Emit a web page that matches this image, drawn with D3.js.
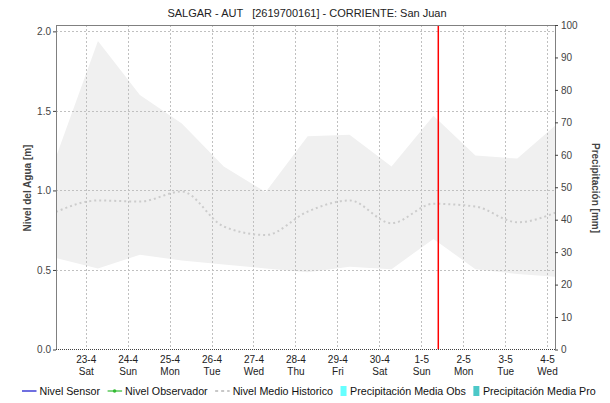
<!DOCTYPE html>
<html>
<head>
<meta charset="utf-8">
<script src="https://cdn.jsdelivr.net/npm/d3@7"></script>
<style>
  html, body { margin: 0; padding: 0; background: #fff; }
  svg { display: block; font-family: "Liberation Sans", Arial, sans-serif; }
</style>
</head>
<body>
<svg id="chart" width="610" height="403"></svg>
<script>
// Station / title
const title = "SALGAR - AUT   [2619700161] - CORRIENTE: San Juan";

// Daily samples of the historical level band (07:00 each day)
const dates = [
  "2022-04-22T07:00Z", "2022-04-23T07:00Z", "2022-04-24T07:00Z", "2022-04-25T07:00Z",
  "2022-04-26T07:00Z", "2022-04-27T07:00Z", "2022-04-28T07:00Z", "2022-04-29T07:00Z",
  "2022-04-30T07:00Z", "2022-05-01T07:00Z", "2022-05-02T07:00Z", "2022-05-03T07:00Z",
  "2022-05-04T07:00Z"
];
const historicMax = [1.21, 1.94, 1.60, 1.42, 1.15, 0.99, 1.34, 1.35, 1.15, 1.47, 1.22, 1.20, 1.43];
const historicMin = [0.575, 0.51, 0.595, 0.56, 0.535, 0.51, 0.485, 0.52, 0.505, 0.695, 0.505, 0.475, 0.455];
const historicMean = [0.865, 0.937, 0.93, 0.993, 0.773, 0.72, 0.867, 0.937, 0.794, 0.916, 0.899, 0.80, 0.87];

// Series with no readings in this window
const sensorLevel = [];
const observerLevel = [];
const precipObs = [];
const precipForecast = [];

// Axis settings
const levelTicks = [0, 0.5, 1.0, 1.5, 2.0];
const precipTicks = [0, 10, 20, 30, 40, 50, 60, 70, 80, 90, 100];
const timeWindow = ["2022-04-22T07:00Z", "2022-05-04T04:33Z"];
const nowMark = "2022-05-01T09:46Z";

const legendItems = [
  { name: "Nivel Sensor", kind: "line", color: "#1010cc" },
  { name: "Nivel Observador", kind: "point", color: "#33bb33" },
  { name: "Nivel Medio Historico", kind: "dash", color: "#c8c8c8" },
  { name: "Precipitación Media Obs", kind: "box", color: "#66ffff" },
  { name: "Precipitación Media Pro", kind: "box", color: "#4cc8c8" }
];

const svg = d3.select("#chart");
const m = { left: 56, right: 555, top: 25, bottom: 349.5 };

const parse = d3.isoParse;
const x = d3.scaleUtc().domain(timeWindow.map(parse)).range([m.left, m.right]);
const yL = d3.scaleLinear().domain([0, 2.04]).range([m.bottom, m.top]);
const yR = d3.scaleLinear().domain([0, 100]).range([m.bottom, m.top]);

const band = dates.map((d, i) => ({ t: parse(d), hi: historicMax[i], lo: historicMin[i], mean: historicMean[i] }));

svg.append("defs").append("clipPath").attr("id", "plot")
  .append("rect").attr("x", m.left).attr("y", m.top)
  .attr("width", m.right - m.left).attr("height", m.bottom - m.top);

const plot = svg.append("g").attr("clip-path", "url(#plot)");

// Historical range band
plot.append("path").datum(band)
  .attr("fill", "#f0f0f0")
  .attr("d", d3.area().x(d => x(d.t)).y0(d => yL(d.lo)).y1(d => yL(d.hi)));

// Grid
const days = d3.utcDay.range(d3.isoParse("2022-04-23T00:00Z"), d3.isoParse("2022-05-05T00:00Z"));
plot.append("g").selectAll("line").data(days).join("line")
  .attr("x1", d => Math.round(x(d)) + 0.5).attr("x2", d => Math.round(x(d)) + 0.5)
  .attr("y1", m.top).attr("y2", m.bottom)
  .attr("stroke", "#c0c0c0").attr("stroke-width", 1).attr("stroke-dasharray", "2,2");
plot.append("g").selectAll("line").data(levelTicks.filter(v => v > 0)).join("line")
  .attr("x1", m.left).attr("x2", m.right)
  .attr("y1", d => Math.round(yL(d)) + 0.5).attr("y2", d => Math.round(yL(d)) + 0.5)
  .attr("stroke", "#c0c0c0").attr("stroke-width", 1).attr("stroke-dasharray", "2,2");

// Historical mean level
plot.append("path").datum(band)
  .attr("fill", "none").attr("stroke", "#cccccc").attr("stroke-width", 2)
  .attr("stroke-dasharray", "2,3")
  .attr("d", d3.line().x(d => x(d.t)).y(d => yL(d.mean)).curve(d3.curveMonotoneX));

// Current time marker
plot.append("line")
  .attr("x1", x(parse(nowMark))).attr("x2", x(parse(nowMark)))
  .attr("y1", m.top).attr("y2", m.bottom)
  .attr("stroke", "#ff0000").attr("stroke-width", 1.5);

// Frame
svg.append("line").attr("x1", m.left).attr("x2", m.right).attr("y1", m.top + 0.5).attr("y2", m.top + 0.5).attr("stroke", "#808080");
svg.append("line").attr("x1", m.left + 0.5).attr("x2", m.left + 0.5).attr("y1", m.top).attr("y2", m.bottom).attr("stroke", "#808080");
svg.append("line").attr("x1", m.right + 0.5).attr("x2", m.right + 0.5).attr("y1", m.top).attr("y2", m.bottom).attr("stroke", "#808080");
svg.append("line").attr("x1", m.left).attr("x2", m.right).attr("y1", m.bottom).attr("y2", m.bottom)
  .attr("stroke", "#404040").attr("stroke-dasharray", "1,1");

// Left axis
const gl = svg.append("g").attr("transform", `translate(${m.left},0)`)
  .call(d3.axisLeft(yL).tickValues(levelTicks).tickFormat(d3.format(".1f")).tickSize(3).tickPadding(2));
gl.select(".domain").remove();
gl.selectAll("line").attr("stroke", "#404040");
gl.selectAll("text").attr("fill", "#444").style("font-size", "10px").style("font-family", null);

// Right axis
const gr = svg.append("g").attr("transform", `translate(${m.right},0)`)
  .call(d3.axisRight(yR).tickValues(precipTicks).tickSize(3).tickPadding(3));
gr.select(".domain").remove();
gr.selectAll("line").attr("stroke", "#404040");
gr.selectAll("text").attr("fill", "#444").style("font-size", "10px").style("font-family", null);

// Bottom axis: day number and weekday
const gx = svg.append("g").attr("transform", `translate(0,${m.bottom})`)
  .call(d3.axisBottom(x).tickValues(days).tickSize(0).tickFormat(d3.utcFormat("%-d-%-m")).tickPadding(6));
gx.select(".domain").remove();
gx.selectAll("text").attr("fill", "#222").style("font-size", "10px").style("font-family", null);
gx.selectAll(".tick").append("text")
  .attr("y", 18).attr("dy", "0.71em").attr("fill", "#222").style("font-size", "10px")
  .text(d => d3.utcFormat("%a")(d));

// Title and axis labels
svg.append("text").attr("x", 307).attr("y", 17).attr("text-anchor", "middle")
  .style("font-size", "11px").style("white-space", "pre").attr("fill", "#222").text(title);
svg.append("text").attr("transform", "translate(31,188) rotate(-90)").attr("text-anchor", "middle")
  .style("font-size", "10px").style("font-weight", "bold").attr("fill", "#444").text("Nivel del Agua [m]");
svg.append("text").attr("transform", "translate(592,188) rotate(90)").attr("text-anchor", "middle")
  .style("font-size", "10px").style("font-weight", "bold").attr("fill", "#444").text("Precipitación [mm]");

// Legend
const lg = svg.append("g").attr("transform", "translate(0,395)");
let lx = 22;
legendItems.forEach(it => {
  const g = lg.append("g").attr("transform", `translate(${lx},0)`);
  let w;
  if (it.kind === "box") {
    g.append("rect").attr("x", 0).attr("y", -9).attr("width", 6).attr("height", 10).attr("fill", it.color);
    w = 9.5;
  } else {
    g.append("line").attr("x1", 0).attr("x2", 14.5).attr("y1", -4).attr("y2", -4)
      .attr("stroke", it.color).attr("stroke-width", it.kind === "dash" ? 2 : 1.2)
      .attr("stroke-dasharray", it.kind === "dash" ? "3,3" : null);
    if (it.kind === "point") g.append("circle").attr("cx", 7).attr("cy", -4).attr("r", 1.8).attr("fill", it.color);
    w = 17.5;
  }
  const t = g.append("text").attr("x", w).attr("y", 0).style("font-size", "10.7px").attr("fill", "#111").text(it.name);
  lx += w + t.node().getComputedTextLength() + 7.5;
});
</script>
</body>
</html>
